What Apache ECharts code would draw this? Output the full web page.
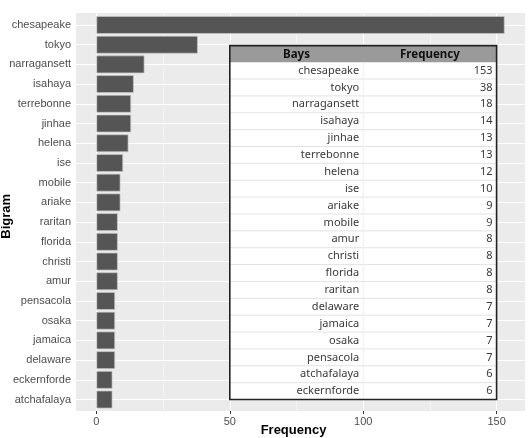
<!DOCTYPE html>
<html>
<head>
<meta charset="UTF-8">
<title>Bigram</title>
<script src="https://cdn.jsdelivr.net/npm/echarts@6/dist/echarts.min.js"></script>
<style>
  html, body { margin: 0; padding: 0; background: #fff; }
  #main { width: 529px; height: 438px; }
</style>
</head>
<body>
<div id="main"></div>
<script>
// bars, top to bottom
var bigrams = ['chesapeake', 'tokyo', 'narragansett', 'isahaya', 'terrebonne', 'jinhae', 'helena', 'ise',
    'mobile', 'ariake', 'raritan', 'florida', 'christi', 'amur', 'pensacola', 'osaka', 'jamaica',
    'delaware', 'eckernforde', 'atchafalaya'];
var counts = [153, 38, 18, 14, 13, 13, 12, 10, 9, 9, 8, 8, 8, 8, 7, 7, 7, 7, 6, 6];

// inset table
var tableBays = ['chesapeake', 'tokyo', 'narragansett', 'isahaya', 'jinhae', 'terrebonne', 'helena', 'ise',
    'ariake', 'mobile', 'amur', 'christi', 'florida', 'raritan', 'delaware', 'jamaica', 'osaka',
    'pensacola', 'atchafalaya', 'eckernforde'];
var tableFreq = [153, 38, 18, 14, 13, 13, 12, 10, 9, 9, 8, 8, 8, 8, 7, 7, 7, 7, 6, 6];

var xTicks = [0, 50, 100, 150];
var xMinor = [25, 75, 125];

var xMin = -7.65, xMax = 160.65;   // ggplot 5% expansion
var labelFont = 'Liberation Sans';
var tableFont = 'Noto Sans';

var chart = echarts.init(document.getElementById('main'));

var vLines = [];
xTicks.forEach(function (v) { vLines.push({xAxis: v, lineStyle: {width: 1.1}}); });
xMinor.forEach(function (v) { vLines.push({xAxis: v, lineStyle: {width: 0.5}}); });

var hLines = bigrams.map(function (b) { return {yAxis: b}; });

chart.setOption({
    animation: false,
    grid: [
        {left: 76, right: 4, top: 13, bottom: 27, show: true, backgroundColor: '#EBEBEB', borderWidth: 0, outerBoundsMode: 'none'},
        {left: 76, right: 4, top: 15.1, bottom: 28.6, outerBoundsMode: 'none'}
    ],
    xAxis: [{
        gridIndex: 0, type: 'value', min: xMin, max: xMax,
        name: 'Frequency', nameLocation: 'middle', nameGap: 13, nameMoveOverlap: false,
        nameTextStyle: {fontFamily: labelFont, fontWeight: 'bold', fontSize: 13, color: '#000', padding: [0, 14, 0, 0]},
        axisLine: {show: false},
        axisTick: {show: true, length: 3, customValues: xTicks, lineStyle: {color: '#333'}},
        axisLabel: {customValues: xTicks, margin: 5, fontFamily: labelFont, fontSize: 11, color: '#4D4D4D'},
        splitLine: {show: false}
    }, {
        gridIndex: 1, type: 'value', min: xMin, max: xMax, show: false
    }],
    yAxis: [{
        gridIndex: 0, type: 'value', min: 0, max: 1, show: false
    }, {
        gridIndex: 1, type: 'category', inverse: true, data: bigrams,
        name: 'Bigram', nameLocation: 'middle', nameRotate: 90, nameGap: 63, nameMoveOverlap: false,
        nameTextStyle: {fontFamily: labelFont, fontWeight: 'bold', fontSize: 13, color: '#000', padding: [0, 8, 0, 0]},
        axisLine: {show: false},
        axisTick: {show: true, length: 3, alignWithLabel: true, lineStyle: {color: '#333'}},
        axisLabel: {margin: 5, fontFamily: labelFont, fontSize: 11, color: '#4D4D4D'},
        splitLine: {show: false}
    }],
    series: [{
        // vertical grid lines
        type: 'line', xAxisIndex: 0, yAxisIndex: 0, data: [], silent: true, z: 1,
        markLine: {
            silent: true, symbol: 'none', z: 1, label: {show: false},
            lineStyle: {color: '#FFFFFF', type: 'solid'},
            data: vLines
        }
    }, {
        type: 'bar', xAxisIndex: 1, yAxisIndex: 1, data: counts,
        barCategoryGap: '10%', z: 3,
        itemStyle: {color: '#555555', borderColor: '#C8C8C8', borderWidth: 0.7},
        markLine: {
            silent: true, symbol: 'none', z: 1, label: {show: false},
            lineStyle: {color: '#FFFFFF', width: 1.1, type: 'solid'},
            data: hLines
        }
    }]
});

// inset table, placed from x=50..150 and tokyo..atchafalaya
var x0 = chart.convertToPixel({xAxisIndex: 1}, 50);
var x1 = chart.convertToPixel({xAxisIndex: 1}, 100);
var x2 = chart.convertToPixel({xAxisIndex: 1}, 150);
var y0 = chart.convertToPixel({yAxisIndex: 1}, 'tokyo') + 1;
var y1 = chart.convertToPixel({yAxisIndex: 1}, 'atchafalaya');
var headH = 16.5;
var rowH = (y1 - y0 - headH) / tableBays.length;

var els = [];
els.push({type: 'rect', shape: {x: x0, y: y0, width: x2 - x0, height: y1 - y0}, style: {fill: '#FFFFFF'}, z: 100});
els.push({type: 'rect', shape: {x: x0, y: y0, width: x2 - x0, height: headH}, style: {fill: '#9A9A9A'}, z: 101});
els.push({type: 'text', x: (x0 + x1) / 2, y: y0 + headH / 2 + 0.5, z: 103,
    style: {text: 'Bays', fontFamily: tableFont, fontWeight: 'bold', fontSize: 11.5, fill: '#111', align: 'center', verticalAlign: 'middle'}});
els.push({type: 'text', x: (x1 + x2) / 2, y: y0 + headH / 2 + 0.5, z: 103,
    style: {text: 'Frequency', fontFamily: tableFont, fontWeight: 'bold', fontSize: 11.5, fill: '#111', align: 'center', verticalAlign: 'middle'}});
tableBays.forEach(function (b, i) {
    var yy = y0 + headH + rowH * i;
    if (i > 0) {
        els.push({type: 'line', shape: {x1: x0, y1: yy, x2: x2, y2: yy}, style: {stroke: '#E3E3E3', lineWidth: 1}, z: 101});
    }
    els.push({type: 'text', x: x1 - 4, y: yy + rowH / 2, z: 103,
        style: {text: b, fontFamily: tableFont, fontSize: 11, fill: '#3A3A3A', align: 'right', verticalAlign: 'middle'}});
    els.push({type: 'text', x: x2 - 4, y: yy + rowH / 2, z: 103,
        style: {text: String(tableFreq[i]), fontFamily: tableFont, fontSize: 11, fill: '#3A3A3A', align: 'right', verticalAlign: 'middle'}});
});
els.push({type: 'line', shape: {x1: x1, y1: y0 + headH, x2: x1, y2: y1}, style: {stroke: '#EEEEEE', lineWidth: 1}, z: 101});
els.push({type: 'rect', shape: {x: x0, y: y0, width: x2 - x0, height: y1 - y0},
    style: {fill: 'none', stroke: '#222', lineWidth: 1.6}, z: 104});

chart.setOption({graphic: {elements: els}});
</script>
</body>
</html>
